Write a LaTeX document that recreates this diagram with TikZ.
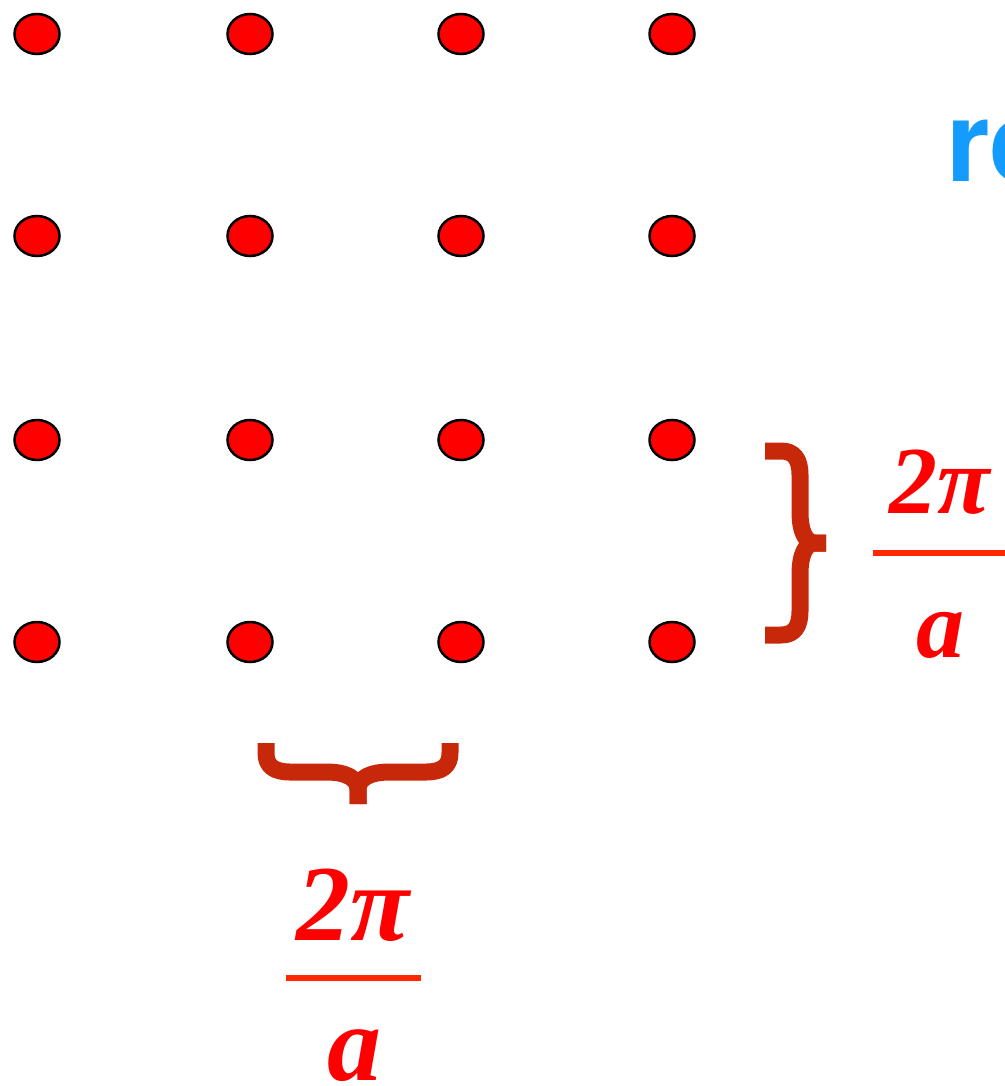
\documentclass[tikz,border=0pt]{standalone}
\usepackage{fontspec}
\usetikzlibrary{shapes.geometric}
\newfontfamily\fracfont{Liberation Serif}
\newfontfamily\labelfont{TeX Gyre Heros}
\definecolor{dotred}{RGB}{255,0,0}
\definecolor{bracered}{RGB}{200,40,10}
\definecolor{barred}{RGB}{255,40,0}
\definecolor{lblue}{RGB}{20,155,255}
\tikzset{
  dot/.style={ellipse, draw=black, fill=dotred, line width=1.25pt, minimum width=22.5pt, minimum height=20pt, inner sep=0pt},
  bracestroke/.style={draw=bracered, line width=8.5pt, line cap=butt, line join=round},
  fracbar/.style={draw=barred, line width=2.6pt},
  bigfrac/.style={text=dotred, inner sep=0pt, anchor=base, font=\fracfont\bfseries\itshape\fontsize{54}{62}\selectfont},
  smallfrac/.style={text=dotred, inner sep=0pt, anchor=base, font=\fracfont\bfseries\itshape\fontsize{48}{56}\selectfont},
  bluelabel/.style={text=lblue, inner sep=0pt, anchor=base west, font=\labelfont\bfseries\fontsize{56}{64}\selectfont}
}
\begin{document}
\begin{tikzpicture}[x=0.5pt,y=-0.5pt]
\useasboundingbox (0,0) rectangle (1005,1086);
\clip (0,0) rectangle (1005,1086);
% lattice of dots
\foreach \c/\x in {1/37,2/250,3/461,4/672}{
  \foreach \r/\y in {1/34,2/236,3/440,4/642}{
    \node[dot] (d\r\c) at (\x,\y) {};
  }
}
% blue partial word
\node[bluelabel] (title) at (946,181) {re};
% vertical brace (two halves meeting in a flat-ended stub)
\path[bracestroke] (765,451) -- (781,451) .. controls (794,451) and (800,459) .. (800,475) -- (800,512)
  .. controls (800,532) and (806,543) .. (815,543) -- (826,543);
\path[bracestroke] (765,635) -- (781,635) .. controls (794,635) and (800,627) .. (800,611) -- (800,574)
  .. controls (800,554) and (806,543) .. (815,543) -- (826,543);
% horizontal brace
\path[bracestroke] (266,743) -- (266,753) .. controls (266,766) and (274,772) .. (290,772) -- (326,772)
  .. controls (346,772) and (358,778) .. (358,790) -- (358,804);
\path[bracestroke] (450,743) -- (450,753) .. controls (450,766) and (442,772) .. (426,772) -- (390,772)
  .. controls (370,772) and (358,778) .. (358,790) -- (358,804);
% right fraction
\node[smallfrac] (rnum) at (940,513) {2π};
\coordinate (rbarL) at (873,553);
\coordinate (rbarR) at (1005,553);
\path[fracbar] (rbarL) -- (rbarR);
\node[smallfrac] (rden) at (940,657) {a};
% bottom fraction
\node[bigfrac] (bnum) at (353,940) {2π};
\coordinate (bbarL) at (286,978);
\coordinate (bbarR) at (421,978);
\path[fracbar] (bbarL) -- (bbarR);
\node[bigfrac] (bden) at (354,1080) {a};
\end{tikzpicture}
\end{document}
